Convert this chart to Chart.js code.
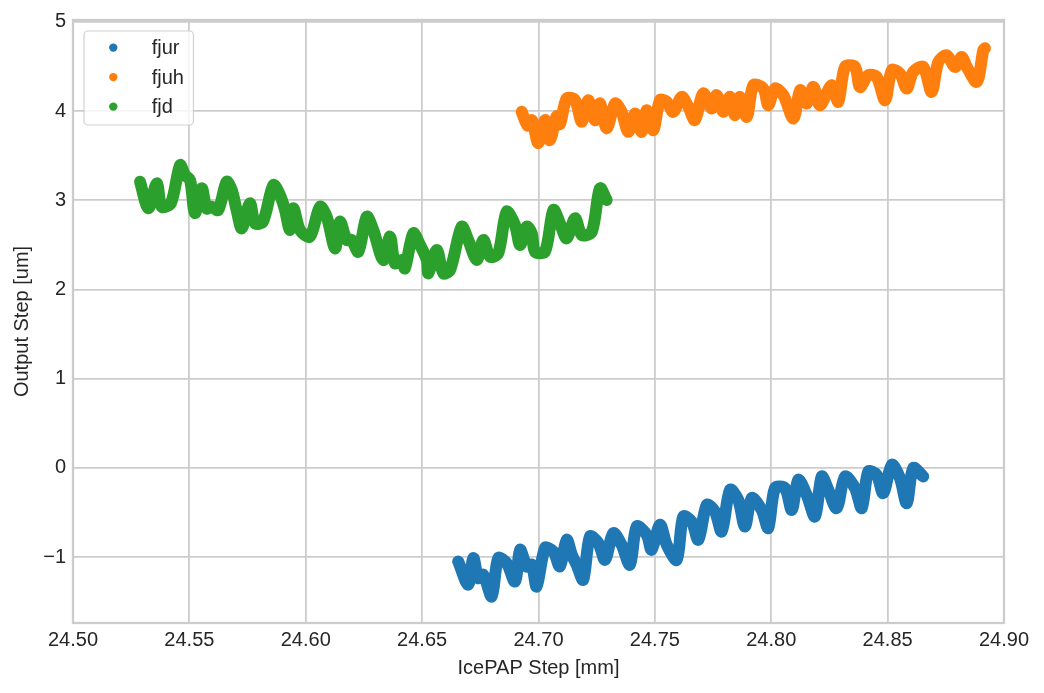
<!DOCTYPE html>
<html><head><meta charset="utf-8">
<script src="https://cdn.jsdelivr.net/npm/chart.js@4"></script>
<style>html,body{margin:0;padding:0;background:#fff}canvas{display:block}</style>
</head><body>
<canvas id="c" width="1044" height="693"></canvas>
<script>
// ---- data ----
const seriesLabels = ['fjur', 'fjuh', 'fjd'];
const seriesColors = ['#1f77b4', '#ff7f0e', '#2ca02c'];

const fjurX = [24.6655,24.6698,24.6720,24.6741,24.6763,24.6799,24.6827,24.6863,24.6899,24.6921,24.6949,24.6971,24.6992,24.7028,24.7064,24.7092,24.7121,24.7143,24.7164,24.7192,24.7221,24.7257,24.7286,24.7321,24.7357,24.7393,24.7422,24.7465,24.7486,24.7522,24.7551,24.7594,24.7622,24.7658,24.7687,24.7723,24.7758,24.7787,24.7823,24.7858,24.7887,24.7916,24.7959,24.7987,24.8016,24.8059,24.8088,24.8116,24.8152,24.8188,24.8217,24.8245,24.8281,24.8317,24.8360,24.8389,24.8417,24.8453,24.8481,24.8518,24.8553,24.8582,24.8610,24.8653];
const fjurY = [-1.050,-1.311,-1.012,-1.236,-1.199,-1.442,-1.012,-1.068,-1.274,-0.919,-1.106,-1.087,-1.330,-0.900,-0.938,-1.106,-0.807,-0.975,-1.087,-1.255,-0.770,-0.844,-1.031,-0.732,-0.863,-1.087,-0.658,-0.751,-0.919,-0.639,-0.863,-1.031,-0.546,-0.602,-0.807,-0.415,-0.490,-0.714,-0.246,-0.359,-0.658,-0.339,-0.471,-0.676,-0.227,-0.227,-0.471,-0.134,-0.303,-0.546,-0.097,-0.246,-0.452,-0.097,-0.227,-0.452,-0.041,-0.078,-0.283,0.034,-0.115,-0.396,-0.003,-0.097];

const fjuhX = [24.6928,24.6953,24.6972,24.6999,24.7028,24.7049,24.7078,24.7092,24.7121,24.7157,24.7186,24.7214,24.7243,24.7264,24.7293,24.7329,24.7357,24.7386,24.7415,24.7443,24.7465,24.7493,24.7522,24.7551,24.7579,24.7615,24.7644,24.7672,24.7708,24.7744,24.7766,24.7794,24.7823,24.7844,24.7866,24.7895,24.7923,24.7966,24.7987,24.8016,24.8052,24.8095,24.8124,24.8152,24.8181,24.8209,24.8260,24.8288,24.8317,24.8360,24.8381,24.8417,24.8453,24.8489,24.8518,24.8553,24.8582,24.8610,24.8653,24.8689,24.8718,24.8754,24.8790,24.8818,24.8840,24.8883,24.8911,24.8918];
const fjuhY = [3.992,3.838,3.899,3.641,3.899,3.675,3.944,3.854,4.142,4.123,3.880,4.123,3.899,4.086,3.806,4.086,3.992,3.768,3.974,3.768,4.011,3.787,4.123,4.104,3.992,4.160,4.048,3.899,4.198,4.030,4.179,3.992,4.160,3.955,4.160,3.936,4.291,4.254,4.067,4.254,4.179,3.918,4.235,4.086,4.272,4.067,4.291,4.104,4.496,4.496,4.272,4.403,4.384,4.123,4.459,4.422,4.254,4.440,4.496,4.216,4.552,4.627,4.496,4.608,4.496,4.328,4.683,4.706];

const fjdX = [24.5288,24.5324,24.5360,24.5381,24.5421,24.5460,24.5481,24.5503,24.5524,24.5553,24.5574,24.5596,24.5624,24.5660,24.5682,24.5703,24.5725,24.5760,24.5782,24.5816,24.5861,24.5889,24.5911,24.5932,24.5947,24.5975,24.6018,24.6061,24.6090,24.6126,24.6147,24.6176,24.6197,24.6226,24.6262,24.6290,24.6333,24.6362,24.6383,24.6412,24.6426,24.6462,24.6491,24.6520,24.6527,24.6563,24.6591,24.6620,24.6670,24.6698,24.6735,24.6763,24.6792,24.6827,24.6863,24.6899,24.6921,24.6949,24.6971,24.6985,24.7028,24.7064,24.7092,24.7121,24.7157,24.7186,24.7229,24.7264,24.7293];
const fjdY = [3.208,2.910,3.190,2.928,2.969,3.395,3.283,3.227,2.857,3.134,2.910,2.928,2.891,3.208,3.115,2.891,2.686,2.966,2.742,2.760,3.171,3.059,2.891,2.667,2.910,2.667,2.592,2.928,2.816,2.462,2.760,2.555,2.555,2.424,2.816,2.667,2.331,2.592,2.294,2.331,2.238,2.630,2.499,2.331,2.182,2.443,2.182,2.218,2.704,2.555,2.331,2.555,2.368,2.406,2.872,2.723,2.499,2.704,2.630,2.424,2.424,2.891,2.742,2.574,2.798,2.611,2.648,3.134,3.003];

const xTicks = [24.50,24.55,24.60,24.65,24.70,24.75,24.80,24.85,24.90];
const yTicks = [-1,0,1,2,3,4,5];
const yTickLabels = ['\u22121','0','1','2','3','4','5'];
const xTitle = 'IcePAP Step [mm]';
const yTitle = 'Output Step [um]';

// ---- build ----
const FONT = "'Liberation Sans', Arial, sans-serif";
const TXT = '#262626';
function pts(xs, ys){ return xs.map((x,i)=>({x:x, y:ys[i]})); }
const allX = [fjurX, fjuhX, fjdX], allY = [fjurY, fjuhY, fjdY];
const datasets = seriesLabels.map((lab,i)=>({
  label: lab,
  data: pts(allX[i], allY[i]),
  borderColor: seriesColors[i],
  backgroundColor: seriesColors[i],
  borderWidth: 12,
  borderCapStyle: 'round',
  borderJoinStyle: 'round',
  pointRadius: 0,
  pointHoverRadius: 0,
  tension: 0.3,
  fill: false
}));

const decor = {
  id: 'decor',
  afterDatasetsDraw(chart){
    const {ctx, chartArea:a} = chart;
    ctx.save();
    ctx.strokeStyle = '#cccccc';
    ctx.lineWidth = 2.3;
    ctx.strokeRect(a.left, a.top, a.right - a.left, a.bottom - a.top);
    ctx.restore();
  },
  afterDraw(chart){
    const {ctx, chartArea:a} = chart;
    const ds = chart.data.datasets;
    ctx.save();
    ctx.font = '20px ' + FONT;
    let maxW = 0;
    ds.forEach(d=>{ maxW = Math.max(maxW, ctx.measureText(d.label).width); });
    const bx = a.left + 11, by = a.top + 11;
    const textX = a.left + 78.7;
    const bw = (textX + maxW + 9.5) - bx, bh = 94;
    const r = 4;
    ctx.beginPath();
    ctx.moveTo(bx + r, by);
    ctx.arcTo(bx + bw, by, bx + bw, by + bh, r);
    ctx.arcTo(bx + bw, by + bh, bx, by + bh, r);
    ctx.arcTo(bx, by + bh, bx, by, r);
    ctx.arcTo(bx, by, bx + bw, by, r);
    ctx.closePath();
    ctx.fillStyle = 'rgba(255,255,255,0.8)';
    ctx.fill();
    ctx.strokeStyle = 'rgba(204,204,204,0.9)';
    ctx.lineWidth = 1.2;
    ctx.stroke();
    ds.forEach((d,i)=>{
      const y = a.top + 27.6 + i * 29.5;
      ctx.beginPath();
      ctx.arc(a.left + 40.3, y, 4.2, 0, Math.PI * 2);
      ctx.fillStyle = d.borderColor;
      ctx.fill();
      ctx.fillStyle = TXT;
      ctx.textAlign = 'left';
      ctx.textBaseline = 'middle';
      ctx.fillText(d.label, textX, y + 1);
    });
    ctx.restore();
  }
};

new Chart(document.getElementById('c'), {
  type: 'line',
  data: { datasets },
  plugins: [decor],
  options: {
    responsive: false,
    animation: false,
    devicePixelRatio: 1,
    layout: { padding: { left: 0, top: 20, right: 40, bottom: 0 } },
    plugins: { legend: { display: false }, tooltip: { enabled: false } },
    scales: {
      x: {
        type: 'linear', min: 24.5, max: 24.9,
        afterBuildTicks: s => { s.ticks = xTicks.map(v=>({value:v})); },
        afterFit: s => { s.height = 70; },
        grid: { color: '#cccccc', lineWidth: 1.8, drawTicks: false },
        border: { display: false },
        ticks: { color: TXT, font: { family: FONT, size: 20 }, padding: 5,
          maxRotation: 0, autoSkip: false,
          callback: v => Number(v).toFixed(2) },
        title: { display: true, text: xTitle, color: TXT, font: { family: FONT, size: 20 },
          padding: { top: 0, bottom: 13 } }
      },
      y: {
        type: 'linear', min: -1.74, max: 5.022,
        afterBuildTicks: s => { s.ticks = yTicks.map(v=>({value:v})); },
        afterFit: s => { s.width = 73; },
        grid: { color: '#cccccc', lineWidth: 1.8, drawTicks: false },
        border: { display: false },
        ticks: { color: TXT, font: { family: FONT, size: 20 }, padding: 7,
          callback: v => { const k = yTicks.indexOf(Math.round(v)); return k >= 0 ? yTickLabels[k] : ''; } },
        title: { display: true, text: yTitle, color: TXT, font: { family: FONT, size: 20 },
          padding: { top: 10, bottom: 0 } }
      }
    }
  }
});
</script>
</body></html>
